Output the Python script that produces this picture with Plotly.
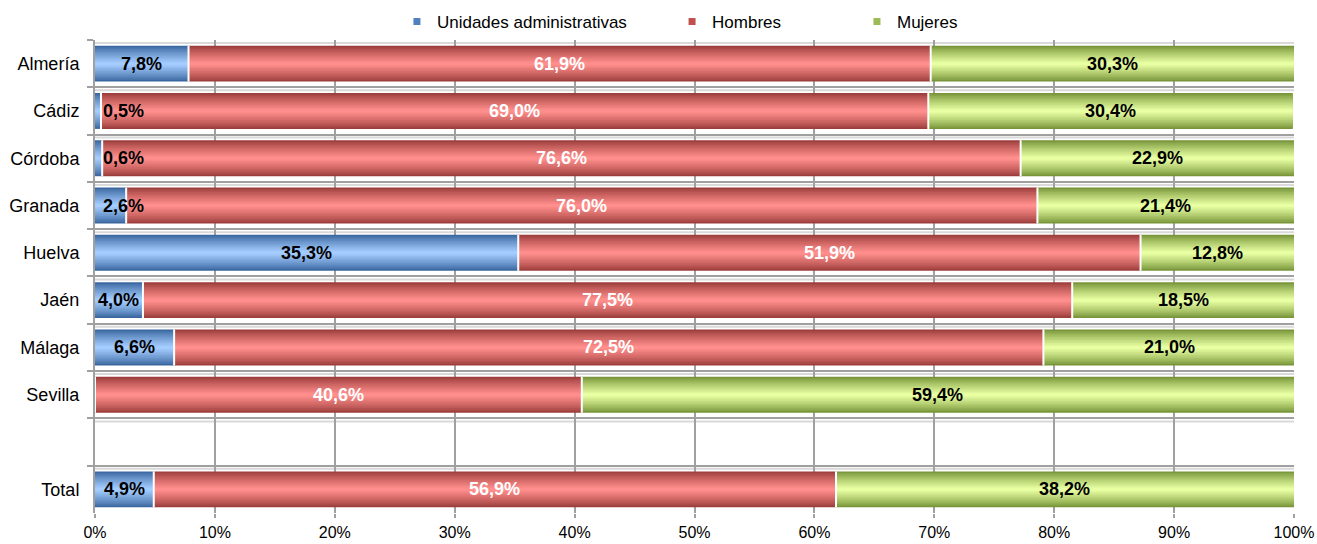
import plotly.graph_objects as go

categories = ['Almería', 'Cádiz', 'Córdoba', 'Granada', 'Huelva', 'Jaén', 'Málaga', 'Sevilla', ' ', 'Total']
unidades = [7.8, 0.5, 0.6, 2.6, 35.3, 4.0, 6.6, 0.0, None, 4.9]
hombres = [61.9, 69.0, 76.6, 76.0, 51.9, 77.5, 72.5, 40.6, None, 56.9]
mujeres = [30.3, 30.4, 22.9, 21.4, 12.8, 18.5, 21.0, 59.4, None, 38.2]
series_names = ['Unidades administrativas', 'Hombres', 'Mujeres']
x_ticks = [0, 10, 20, 30, 40, 50, 60, 70, 80, 90, 100]

FONT = 'Liberation Sans, Arial, sans-serif'
legend_colors = ['#4F81BD', '#C0504D', '#9BBB59']
dark_colors = ['#3a679f', '#9c3e3c', '#789539']
light_colors = ['#a4ccff', '#ff8e8c', '#e8ffa2']
label_colors = ['black', 'white', 'black']
BAR_W = 0.76
N_LAYERS = 12


def hex2rgb(h):
    h = h.lstrip('#')
    return [int(h[i:i + 2], 16) for i in (0, 2, 4)]


def mix(c1, c2, t):
    a, b = hex2rgb(c1), hex2rgb(c2)
    return 'rgb(%d,%d,%d)' % tuple(round(a[i] + (b[i] - a[i]) * t) for i in range(3))


def fmt(v):
    return ('%.1f' % v).replace('.', ',') + '%'


values = [unidades, hombres, mujeres]
idx = list(range(len(categories)))
rows = [i for i in idx if unidades[i] is not None]

fig = go.Figure()

bases = []
for s, vals in enumerate(values):
    b = []
    for i in rows:
        b.append(sum(values[k][i] for k in range(s)))
    bases.append(b)

for s, vals in enumerate(values):
    ys = [categories[i] for i in rows]
    xs = [vals[i] for i in rows]
    for k in range(N_LAYERS):
        t = (k / (N_LAYERS - 1)) ** 0.85
        fig.add_trace(go.Bar(
            y=ys, x=xs, base=bases[s], orientation='h',
            width=BAR_W * (1 - k / N_LAYERS),
            marker=dict(color=mix(dark_colors[s], light_colors[s], t), line=dict(width=0)),
            showlegend=False, hoverinfo='skip'))

# legend entries
for s, name in enumerate(series_names):
    fig.add_trace(go.Scatter(
        x=[None], y=[None], mode='markers', name=name,
        marker=dict(symbol='square', size=7, color=legend_colors[s]),
        legend='legend' if s == 0 else 'legend%d' % (s + 1)))

shapes = []
# white separators between segments
for j, i in enumerate(rows):
    for s in range(1, 3):
        xb = bases[s][j]
        shapes.append(dict(type='line', xref='x', yref='y', x0=xb, x1=xb,
                           y0=i - BAR_W / 2, y1=i + BAR_W / 2,
                           line=dict(color='white', width=2), layer='above'))
# light second line under each horizontal gridline (3D floor effect)
for i in range(len(categories) + 1):
    shapes.append(dict(type='line', xref='paper', yref='y', x0=0, x1=1,
                       ysizemode='pixel', yanchor=i - 0.5, y0=-3, y1=-3,
                       line=dict(color='#d9d9d9', width=2), layer='below'))

annotations = []
for s, vals in enumerate(values):
    for j, i in enumerate(rows):
        v = vals[i]
        if not v:
            continue
        if s == 0 and v < 3:
            ax, anchor = 0.5, 'left'
        else:
            ax, anchor = bases[s][j] + v / 2, 'center'
        annotations.append(dict(x=ax, y=categories[i], xref='x', yref='y', text=fmt(v),
                                showarrow=False, xanchor=anchor,
                                font=dict(family=FONT, size=18, color=label_colors[s],
                                          weight='bold')))

legend_common = dict(orientation='h', yanchor='middle', y=0.9596, yref='container',
                     xanchor='left', xref='container',
                     bgcolor='rgba(0,0,0,0)', font=dict(family=FONT, size=17, color='black'),
                     itemwidth=30)

fig.update_layout(
    width=1317, height=544,
    margin=dict(l=95, r=23, t=38, b=31),
    paper_bgcolor='white', plot_bgcolor='white',
    barmode='overlay',
    font=dict(family=FONT, size=17, color='black'),
    shapes=shapes, annotations=annotations,
    legend=dict(legend_common, x=0.3014),
    legend2=dict(legend_common, x=0.5103),
    legend3=dict(legend_common, x=0.6507),
    xaxis=dict(range=[0, 100], tickvals=x_ticks, ticktext=['%d%%' % t for t in x_ticks],
               showgrid=True, gridcolor='#a0a0a0', gridwidth=2, zeroline=False,
               ticks='outside', ticklen=4, tickcolor='#a0a0a0', tickwidth=2,
               showline=False, tickfont=dict(size=16), ticklabelstandoff=1,
               automargin=False),
    yaxis=dict(type='category', categoryorder='array', categoryarray=categories,
               range=[len(categories) - 0.5, -0.5], tickson='boundaries',
               showgrid=True, gridcolor='#a0a0a0', gridwidth=2,
               ticks='outside', ticklen=6, tickcolor='#a0a0a0', tickwidth=2,
               showline=True, linecolor='#a0a0a0', linewidth=2,
               tickfont=dict(size=18), ticklabelstandoff=10, automargin=False),
)

fig.write_html('out.html', config={'displayModeBar': False},
               post_script='document.body.style.margin="0";')
